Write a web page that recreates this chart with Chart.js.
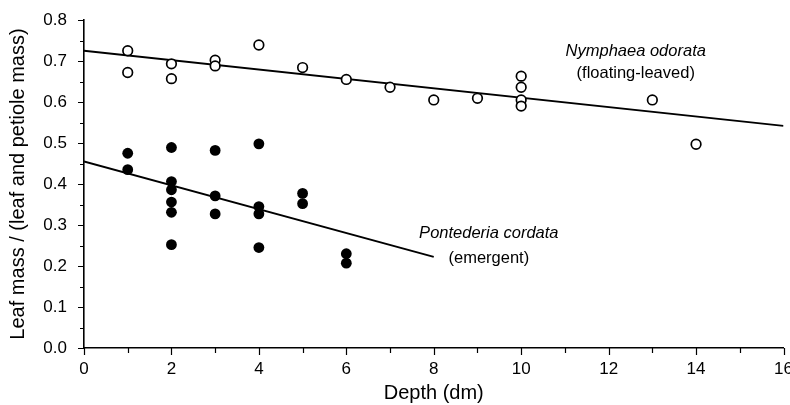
<!DOCTYPE html>
<html>
<head>
<meta charset="utf-8">
<script src="https://cdn.jsdelivr.net/npm/chart.js@4"></script>
<style>
  html, body { margin: 0; padding: 0; background: #fff; }
  #wrap { width: 790px; height: 405px; }
</style>
</head>
<body>
<div id="wrap"><canvas id="myChart"></canvas></div>
<script>
// Nymphaea odorata (floating-leaved), open circles
var nymDepth = [1, 1, 2, 2, 3, 3, 4, 5, 6, 7, 8, 9, 10, 10, 10, 10, 13, 14];
var nymRatio = [0.725, 0.672, 0.693, 0.657, 0.702, 0.688, 0.739, 0.684, 0.655, 0.636, 0.605, 0.609, 0.663, 0.636, 0.605, 0.590, 0.605, 0.497];
// Pontederia cordata (emergent), filled circles
var ponDepth = [1, 1, 2, 2, 2, 2, 2, 2, 3, 3, 3, 4, 4, 4, 4, 5, 5, 6, 6];
var ponRatio = [0.475, 0.435, 0.489, 0.406, 0.386, 0.356, 0.331, 0.252, 0.482, 0.371, 0.327, 0.498, 0.345, 0.327, 0.245, 0.377, 0.352, 0.230, 0.207];
// regression lines (end points)
var nymFitX = [0, 16];
var nymFitY = [0.725, 0.542];
var ponFitX = [0, 8];
var ponFitY = [0.455, 0.222];
// axis ranges
var xRange = [0, 16];
var yRange = [0, 0.8];

function pts(xs, ys) {
  return xs.map(function (x, i) { return { x: x, y: ys[i] }; });
}

// text labels next to the fitted lines
var notes = [
  { text: "Nymphaea odorata", x: 12.62, y: 0.724, italic: true },
  { text: "(floating-leaved)", x: 12.62, y: 0.670, italic: false },
  { text: "Pontederia cordata", x: 9.26, y: 0.280, italic: true },
  { text: "(emergent)", x: 9.26, y: 0.219, italic: false },
];

const FONT = "'Liberation Sans', Arial, Helvetica, sans-serif";

// short outward tick marks, long for labelled ticks
const tickMarks = {
  id: "tickMarks",
  afterDraw(chart) {
    const ctx = chart.ctx;
    const xs = chart.scales.x, ys = chart.scales.y;
    ctx.save();
    ctx.strokeStyle = "#000";
    ctx.lineWidth = 1.2;
    ctx.beginPath();
    ys.ticks.forEach(function (t) {
      const major = Math.abs(t.value * 10 - Math.round(t.value * 10)) < 1e-6;
      const py = Math.round(ys.getPixelForValue(t.value)) + 0.5;
      ctx.moveTo(xs.left, py);
      ctx.lineTo(xs.left - (major ? 6 : 4), py);
    });
    xs.ticks.forEach(function (t) {
      const major = t.value % 2 === 0;
      const px = Math.round(xs.getPixelForValue(t.value)) + 0.5;
      ctx.moveTo(px, ys.bottom);
      ctx.lineTo(px, ys.bottom + (major ? 7 : 5));
    });
    ctx.stroke();

    ctx.fillStyle = "#000";
    ctx.textAlign = "center";
    ctx.textBaseline = "middle";
    notes.forEach(function (n) {
      ctx.font = (n.italic ? "italic " : "") + "16.5px " + FONT;
      ctx.fillText(n.text, xs.getPixelForValue(n.x), ys.getPixelForValue(n.y));
    });
    ctx.restore();
  },
};

const data = {
  datasets: [
    {
      type: "line",
      data: pts(nymFitX, nymFitY),
      borderColor: "#000",
      borderWidth: 1.8,
      pointRadius: 0,
      fill: false,
      order: 2,
    },
    {
      type: "line",
      data: pts(ponFitX, ponFitY),
      borderColor: "#000",
      borderWidth: 1.8,
      pointRadius: 0,
      fill: false,
      order: 2,
    },
    {
      type: "scatter",
      label: "Nymphaea odorata",
      data: pts(nymDepth, nymRatio),
      backgroundColor: "#fff",
      borderColor: "#000",
      borderWidth: 1.7,
      pointRadius: 4.8,
      order: 1,
    },
    {
      type: "scatter",
      label: "Pontederia cordata",
      data: pts(ponDepth, ponRatio),
      backgroundColor: "#000",
      borderColor: "#000",
      borderWidth: 0,
      pointRadius: 5.4,
      order: 1,
    },
  ],
};

const config = {
  type: "scatter",
  data,
  options: {
    responsive: true,
    maintainAspectRatio: false,
    animation: false,
    events: [],
    layout: { padding: { top: 20, right: 6, bottom: 0, left: 0 } },
    plugins: { legend: { display: false }, tooltip: { enabled: false } },
    scales: {
      x: {
        type: "linear",
        min: xRange[0],
        max: xRange[1],
        grid: { display: false },
        border: { display: true, color: "#000", width: 1.6 },
        ticks: {
          stepSize: 1,
          color: "#000",
          padding: 3,
          font: { family: FONT, size: 17 },
          maxRotation: 0,
          autoSkip: false,
          callback: function (v) { return v % 2 === 0 ? String(v) : ""; },
        },
        title: {
          display: true,
          text: "Depth (dm)",
          color: "#000",
          font: { family: FONT, size: 20 },
          padding: { top: 0, bottom: 0 },
        },
        afterFit: function (s) { s.height = 57; s.paddingLeft = 0; s.paddingRight = 0; },
      },
      y: {
        type: "linear",
        min: yRange[0],
        max: yRange[1],
        grid: { display: false },
        border: { display: true, color: "#000", width: 1.6 },
        ticks: {
          stepSize: 0.05,
          color: "#000",
          padding: 9,
          font: { family: FONT, size: 17 },
          autoSkip: false,
          callback: function (v) {
            return Math.abs(v * 10 - Math.round(v * 10)) < 1e-6 ? v.toFixed(1) : "";
          },
        },
        title: {
          display: true,
          text: "Leaf mass / (leaf and petiole mass)",
          color: "#000",
          font: { family: FONT, size: 20 },
          padding: { top: 6, bottom: 0 },
        },
        afterFit: function (s) { s.width = 84; s.paddingTop = 0; s.paddingBottom = 0; },
      },
    },
  },
  plugins: [tickMarks],
};

const myChart = new Chart(document.getElementById("myChart"), config);
</script>
</body>
</html>
